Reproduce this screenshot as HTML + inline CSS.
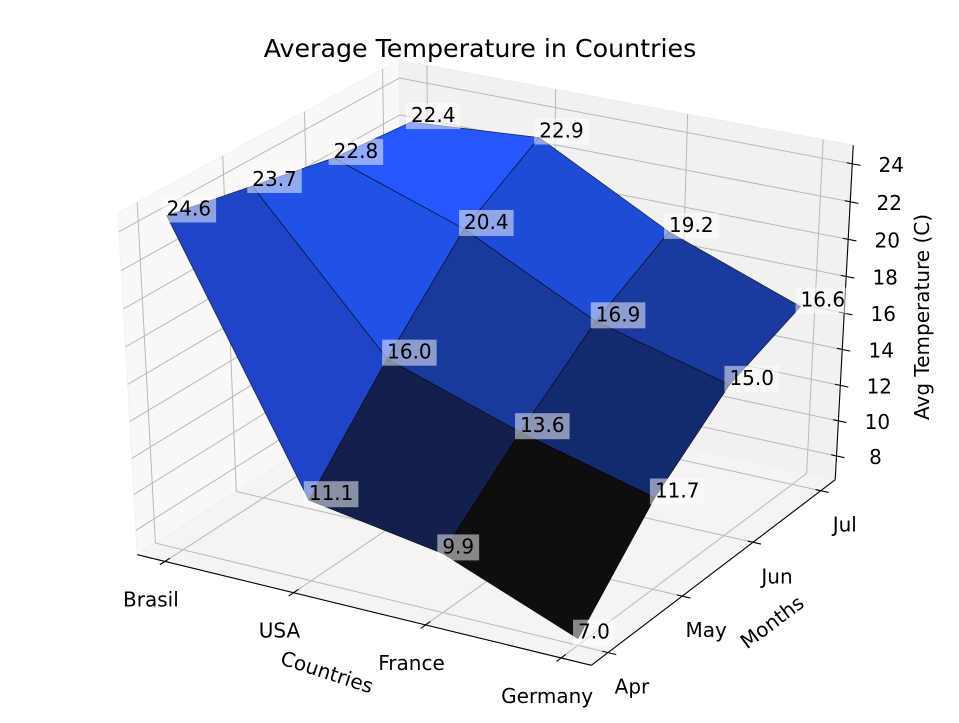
<!DOCTYPE html>
<html><head><meta charset="utf-8">
<style>
html,body{margin:0;padding:0;background:#fff;}
svg{display:block;font-family:"DejaVu Sans","Liberation Sans",sans-serif;}
</style></head>
<body>
<svg id="chart" width="959" height="723" viewBox="0 0 959 723" xmlns="http://www.w3.org/2000/svg">
  <rect x="0" y="0" width="959" height="723" fill="#ffffff"/>
  <g id="panes"></g>
  <g id="grid"></g>
  <g id="axes"></g>
  <g id="surface"></g>
  <g id="vlabels"></g>
  <g id="ticklabels"></g>
  <text x="480" y="57" font-size="25.3" text-anchor="middle" fill="#000">Average Temperature in Countries</text>
  <text x="0" y="0" font-size="20" text-anchor="middle" dominant-baseline="central" transform="translate(327,672) rotate(18)" fill="#000">Countries</text>
  <text x="0" y="0" font-size="20" text-anchor="middle" dominant-baseline="central" transform="translate(772,622) rotate(-37)" fill="#000">Months</text>
  <text x="0" y="0" font-size="20" text-anchor="middle" dominant-baseline="central" transform="translate(922,317) rotate(-90)" fill="#000">Avg Temperature (C)</text>
</svg>
<script>
const countries = ['Brasil', 'USA', 'France', 'Germany'];
const months = ['Apr', 'May', 'Jun', 'Jul'];
const tempBrasil = [24.6, 23.7, 22.8, 22.4];
const tempUSA = [11.1, 16.0, 20.4, 22.9];
const tempFrance = [9.9, 13.6, 16.9, 19.2];
const tempGermany = [7.0, 11.7, 15.0, 16.6];
const zTicks = [8, 10, 12, 14, 16, 18, 20, 22, 24];

const temps = [tempBrasil, tempUSA, tempFrance, tempGermany];
const NS = 'http://www.w3.org/2000/svg';
function mk(tag, attrs, parent) {
  const e = document.createElementNS(NS, tag);
  for (const k in attrs) e.setAttribute(k, attrs[k]);
  parent.appendChild(e);
  return e;
}

const nx = countries.length - 1, ny = months.length - 1;
const xl = [-0.05 * nx, nx * 1.05];
const yl = [-0.05 * ny, ny * 1.05];
let zmin = Infinity, zmax = -Infinity;
temps.forEach(r => r.forEach(v => { zmin = Math.min(zmin, v); zmax = Math.max(zmax, v); }));
const zl = [zmin, zmax];
function padded(l) { const d = (l[1] - l[0]) / 48; return [l[0] - d, l[1] + d]; }
const bx = padded(xl), by = padded(yl), bz = padded(zl);

const el = 30 * Math.PI / 180, az = -60 * Math.PI / 180, dist = 10;
const E = [0.5 + Math.cos(az) * Math.cos(el) * dist, 0.5 + Math.sin(az) * Math.cos(el) * dist, 0.5 + Math.sin(el) * dist];
function sub(a, b) { return [a[0] - b[0], a[1] - b[1], a[2] - b[2]]; }
function dot(a, b) { return a[0] * b[0] + a[1] * b[1] + a[2] * b[2]; }
function cross(a, b) { return [a[1] * b[2] - a[2] * b[1], a[2] * b[0] - a[0] * b[2], a[0] * b[1] - a[1] * b[0]]; }
function norm(a) { const m = Math.sqrt(dot(a, a)); return [a[0] / m, a[1] / m, a[2] / m]; }
const nV = norm(sub(E, [0.5, 0.5, 0.5]));
const uV = norm(cross([0, 0, 1], nV));
const vV = cross(nV, uV);
function proj(x, y, z) {
  const w = [(x - xl[0]) / (xl[1] - xl[0]), (y - yl[0]) / (yl[1] - yl[0]), (z - zl[0]) / (zl[1] - zl[0])];
  const d = sub(w, E);
  const zv = dot(nV, d);
  return [dot(uV, d) / -zv, dot(vV, d) / -zv, -zv];
}
const pA = proj(bx[0], by[0], bz[0]), pB = proj(bx[1], by[1], bz[0]), pC = proj(bx[1], by[0], bz[0]), pD = proj(bx[1], by[1], bz[1]);
const kx = (835 - 137) / (pB[0] - pA[0]);
const ky = (665 - 145) / (pD[1] - pC[1]);
const cxv = ((137 - kx * pA[0]) + (835 - kx * pB[0]) + (592 - kx * pC[0]) + (853 - kx * pD[0])) / 4;
const cyv = ((554 + ky * pA[1]) + (481 + ky * pB[1]) + (665 + ky * pC[1]) + (145 + ky * pD[1])) / 4;
function S(x, y, z) { const p = proj(x, y, z); return [cxv + kx * p[0], cyv - ky * p[1], p[2]]; }
function pts(list) { return list.map(p => { const s = S(p[0], p[1], p[2]); return s[0].toFixed(2) + ',' + s[1].toFixed(2); }).join(' '); }
function line(g, a, b, attrs) {
  const s1 = S(a[0], a[1], a[2]), s2 = S(b[0], b[1], b[2]);
  return mk('line', Object.assign({x1: s1[0], y1: s1[1], x2: s2[0], y2: s2[1]}, attrs), g);
}

const gP = document.getElementById('panes');
let pane = mk('polygon', {points: pts([[bx[0], by[0], bz[0]], [bx[0], by[1], bz[0]], [bx[0], by[1], bz[1]], [bx[0], by[0], bz[1]]]), fill: '#f8f8f8', stroke: '#f2f2f2'}, gP);


pane = mk('polygon', {points: pts([[bx[0], by[1], bz[0]], [bx[1], by[1], bz[0]], [bx[1], by[1], bz[1]], [bx[0], by[1], bz[1]]]), fill: '#f1f1f1', stroke: '#ececec'}, gP);


pane = mk('polygon', {points: pts([[bx[0], by[0], bz[0]], [bx[1], by[0], bz[0]], [bx[1], by[1], bz[0]], [bx[0], by[1], bz[0]]]), fill: '#f4f4f4', stroke: '#efefef'}, gP);



const gG = document.getElementById('grid');
const gridAttr = {stroke: '#b8b8b8', 'stroke-width': 1};
countries.forEach((c, i) => {
  let l = line(gG, [i, by[0], bz[0]], [i, by[1], bz[0]], gridAttr);
  
  
  l = line(gG, [i, by[1], bz[0]], [i, by[1], bz[1]], gridAttr);
  
  
});
months.forEach((m, j) => {
  let l = line(gG, [bx[0], j, bz[0]], [bx[1], j, bz[0]], gridAttr);
  
  
  l = line(gG, [bx[0], j, bz[0]], [bx[0], j, bz[1]], gridAttr);
  
  
});
zTicks.forEach(t => {
  let l = line(gG, [bx[0], by[0], t], [bx[0], by[1], t], gridAttr);
  
  
  l = line(gG, [bx[0], by[1], t], [bx[1], by[1], t], gridAttr);
  
  
});

const gA = document.getElementById('axes');
const axAttr = {stroke: '#000', 'stroke-width': 1.1};
let ax = line(gA, [bx[0], by[0], bz[0]], [bx[1], by[0], bz[0]], axAttr);


ax = line(gA, [bx[1], by[0], bz[0]], [bx[1], by[1], bz[0]], axAttr);


ax = line(gA, [bx[1], by[1], bz[0]], [bx[1], by[1], bz[1]], axAttr);



const gT = document.getElementById('ticklabels');
function tlabel(text, x, y, name) {
  const t = mk('text', {x: x, y: y, 'font-size': 20, 'text-anchor': 'middle', 'dominant-baseline': 'central', fill: '#000'}, gT);
  t.textContent = text;
  
  
}
countries.forEach((c, i) => {
  const tk = line(gA, [i, by[0] - 0.06, bz[0]], [i, by[0] + 0.06, bz[0]], axAttr);
  
  
  const s = S(i, by[0], bz[0]);
  tlabel(c, s[0] - 14, s[1] + 38, 'x-tick-label');
});
months.forEach((m, j) => {
  const tk = line(gA, [bx[1] - 0.04, j, bz[0]], [bx[1] + 0.06, j, bz[0]], axAttr);
  
  
  const s = S(bx[1], j, bz[0]);
  tlabel(m, s[0] + 24, s[1] + 34, 'y-tick-label');
});
zTicks.forEach(t => {
  const tk = line(gA, [bx[1] - 0.04, by[1], t], [bx[1] + 0.06, by[1], t], axAttr);
  
  
  const s = S(bx[1], by[1], t);
  tlabel(String(t), s[0] + 39, s[1] + 1, 'z-tick-label');
});

const stops = [[0, [14, 14, 14]], [0.171, [19, 31, 74]], [0.308, [20, 41, 106]], [0.517, [26, 56, 152]], [0.729, [30, 70, 200]], [0.883, [32, 82, 232]], [1, [36, 87, 253]]];
function cmap(t) {
  t = Math.max(0, Math.min(1, t));
  for (let k = 1; k < stops.length; k++) {
    if (t <= stops[k][0]) {
      const a = stops[k - 1], b = stops[k];
      const f = (t - a[0]) / (b[0] - a[0]);
      return 'rgb(' + [0, 1, 2].map(q => Math.round(a[1][q] + f * (b[1][q] - a[1][q]))).join(',') + ')';
    }
  }
  return 'rgb(36,87,253)';
}
const faces = [];
for (let i = 0; i < nx; i++) for (let j = 0; j < ny; j++) {
  const corners = [[i, j, temps[i][j]], [i + 1, j, temps[i + 1][j]], [i + 1, j + 1, temps[i + 1][j + 1]], [i, j + 1, temps[i][j + 1]]];
  const avg = corners.reduce((s, c) => s + c[2], 0) / 4;
  const depth = corners.reduce((s, c) => s + proj(c[0], c[1], c[2])[2], 0) / 4;
  faces.push({i, j, corners, avg, depth});
}
const amin = Math.min(...faces.map(f => f.avg)), amax = Math.max(...faces.map(f => f.avg));
faces.sort((a, b) => b.depth - a.depth);
const gS = document.getElementById('surface');
faces.forEach(f => {
  const p = mk('polygon', {points: pts(f.corners), fill: cmap((f.avg - amin) / (amax - amin)), 'fill-opacity': 1, stroke: '#000', 'stroke-width': 0.6, 'stroke-opacity': 0.85, 'stroke-linejoin': 'round'}, gS);
  
  
});

const gV = document.getElementById('vlabels');
temps.forEach((row, i) => row.forEach((v, j) => {
  const s = S(i, j, v);
  const g = mk('g', {}, gV);
  
  
  const r = mk('rect', {x: s[0] - 5, y: s[1] - 19, width: 50, height: 26, fill: '#ffffff', 'fill-opacity': 0.5}, g);
  const t = mk('text', {x: s[0], y: s[1], 'font-size': 20, fill: '#000'}, g);
  t.textContent = v.toFixed(1);
  const w = t.getComputedTextLength();
  r.setAttribute('width', w + 10);
}));
</script>
</body></html>
